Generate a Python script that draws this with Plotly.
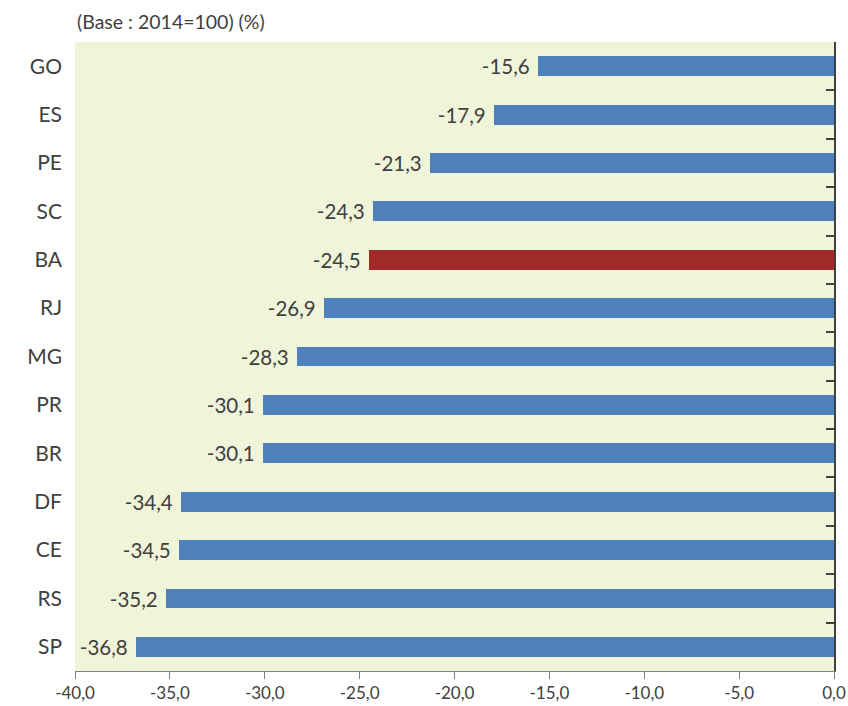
import plotly.graph_objects as go

# States ordered from top to bottom, with the cumulative change (%)
states = ["GO", "ES", "PE", "SC", "BA", "RJ", "MG", "PR", "BR", "DF", "CE", "RS", "SP"]
values = [-15.6, -17.9, -21.3, -24.3, -24.5, -26.9, -28.3, -30.1, -30.1, -34.4, -34.5, -35.2, -36.8]
highlight = "BA"

x_ticks = [-40, -35, -30, -25, -20, -15, -10, -5, 0]
x_tick_text = [f"{v:.1f}".replace(".", ",") for v in x_ticks]

blue = "#4F81BD"
red = "#A02B28"
text_col = "#404040"
font_family = "Lato, 'Open Sans', sans-serif"

colors = [red if s == highlight else blue for s in states]
# value labels use a decimal comma; a trailing no-break space keeps them off the bar end
labels = [f"{v:.1f}".replace(".", ",") + "\u00a0" for v in values]

fig = go.Figure()
fig.add_trace(go.Bar(
    x=values,
    y=states,
    orientation="h",
    marker=dict(color=colors, line=dict(width=0)),
    width=0.41,
    text=labels,
    textposition="outside",
    constraintext="none",
    textfont=dict(size=20.5, color=text_col, family=font_family),
    cliponaxis=False,
    hoverinfo="x+y",
))

# Helper trace that carries the right-hand boundary axis
n = len(states)
fig.add_trace(go.Scatter(
    x=[0], y=[0], yaxis="y2", mode="markers",
    marker=dict(opacity=0), showlegend=False, hoverinfo="skip",
))

fig.update_layout(
    width=848, height=706,
    margin=dict(l=75, r=14, t=42, b=35),
    paper_bgcolor="white",
    plot_bgcolor="#F0F5DA",
    showlegend=False,
    bargap=0,
    font=dict(family=font_family, color=text_col),
    xaxis=dict(
        range=[-40, 0],
        tickvals=x_ticks,
        ticktext=x_tick_text,
        ticks="outside",
        ticklen=7,
        tickcolor="#7F7F7F",
        showline=True,
        linecolor="#7F7F7F",
        linewidth=1,
        showgrid=False,
        zeroline=False,
        automargin=False,
        tickfont=dict(size=17, color=text_col),
    ),
    yaxis=dict(
        categoryorder="array",
        categoryarray=states[::-1],
        range=[-0.5, n - 0.5],
        showgrid=False,
        showline=False,
        ticks="",
        ticklabelstandoff=12,
        automargin=False,
        tickfont=dict(size=21, color=text_col),
    ),
    yaxis2=dict(
        overlaying="y",
        side="right",
        anchor="x",
        range=[-0.5, n - 0.5],
        tickvals=[i - 0.5 for i in range(n + 1)],
        ticks="inside",
        ticklen=8,
        tickwidth=2,
        tickcolor="#404040",
        showticklabels=False,
        showline=True,
        linecolor="#404040",
        linewidth=2,
        showgrid=False,
        zeroline=False,
        automargin=False,
    ),
    annotations=[dict(
        text="(Base : 2014=100) (%)",
        xref="paper", yref="paper",
        x=0, y=1, xanchor="left", yanchor="bottom",
        yshift=7,
        showarrow=False,
        font=dict(size=19.5, color=text_col, family=font_family),
    )],
)

fig.write_html("out.html")
